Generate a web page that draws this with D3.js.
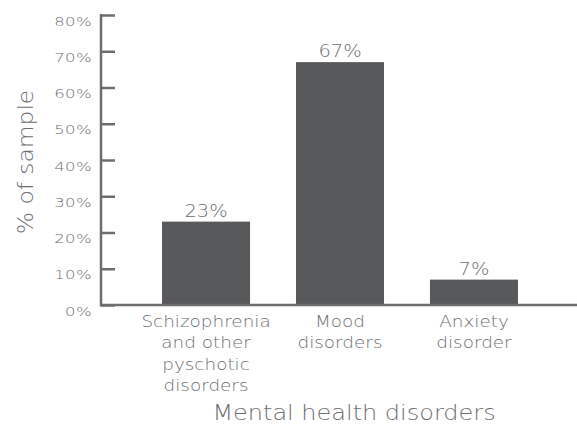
<!DOCTYPE html>
<html><head><meta charset="utf-8">
<script src="https://cdn.jsdelivr.net/npm/d3@7"></script>
<style>
body{margin:0;background:#fff;}
text{font-family:"DejaVu Sans",sans-serif;font-weight:200;fill:#6d6e71;}
</style></head>
<body><svg id="c" width="577" height="425"></svg>
<script>
const categories = [["Schizophrenia","and other","pyschotic","disorders"],["Mood","disorders"],["Anxiety","disorder"]];
const values = [23, 67, 7];
const yTicks = [0,10,20,30,40,50,60,70,80];
const yTitle = "% of sample";
const xTitle = "Mental health disorders";

const svg = d3.select("#c");
const x = d3.scaleBand().domain(d3.range(categories.length)).range([102,578]).paddingInner(0.343).paddingOuter(0.448);
const y = d3.scaleLinear().domain([0,80]).range([305,15]);
const axisColor = "#6d6e71";

svg.selectAll("rect.bar").data(values).join("rect").attr("class","bar")
  .attr("x",(d,i)=>x(i)).attr("width",x.bandwidth())
  .attr("y",d=>y(d)).attr("height",d=>y(0)-y(d)).attr("fill","#58595b");

// y axis
const ya = svg.append("g").attr("transform","translate(101,0)")
  .call(d3.axisRight(y).tickValues(yTicks).tickSize(14).tickFormat(""));
ya.select(".domain").remove();
ya.selectAll(".tick line").attr("stroke",axisColor).attr("stroke-width",2.5);
svg.append("line").attr("x1",101).attr("x2",101).attr("y1",y(80)-1).attr("y2",y(0)+1.2)
  .attr("stroke",axisColor).attr("stroke-width",2.5);
svg.selectAll("text.yt").data(yTicks).join("text").attr("class","yt")
  .attr("transform",d=>`translate(92,${y(d)+10.5}) scale(1.27,1)`).attr("text-anchor","end")
  .attr("font-size",13).attr("letter-spacing",0.3).text(d=>d+"%");

// x axis line
svg.append("line").attr("x1",100).attr("x2",577).attr("y1",y(0)).attr("y2",y(0))
  .attr("stroke",axisColor).attr("stroke-width",2.5);

// value labels
svg.selectAll("text.vl").data(values).join("text").attr("class","vl")
  .attr("transform",(d,i)=>`translate(${x(i)+x.bandwidth()/2},${y(d)-5}) scale(1.08,1)`)
  .attr("text-anchor","middle").attr("font-size",18).text(d=>d+"%");

// category labels
categories.forEach((lines,i)=>{
  const cx = x(i)+x.bandwidth()/2;
  const g = svg.append("g").attr("transform",`translate(${cx},0) scale(1.15,1)`);
  lines.forEach((l,j)=>g.append("text").attr("text-anchor","middle").attr("font-size",16)
    .attr("x",0).attr("y",327+j*21.5).text(l));
});

svg.append("text").attr("transform","translate(354,420) scale(1.17,1)").attr("text-anchor","middle")
  .attr("font-size",20.5).text(xTitle);
svg.append("text").attr("transform","translate(33,162) rotate(-90) scale(1.14,1)").attr("text-anchor","middle")
  .attr("font-size",20.5).text(yTitle);
</script></body></html>
